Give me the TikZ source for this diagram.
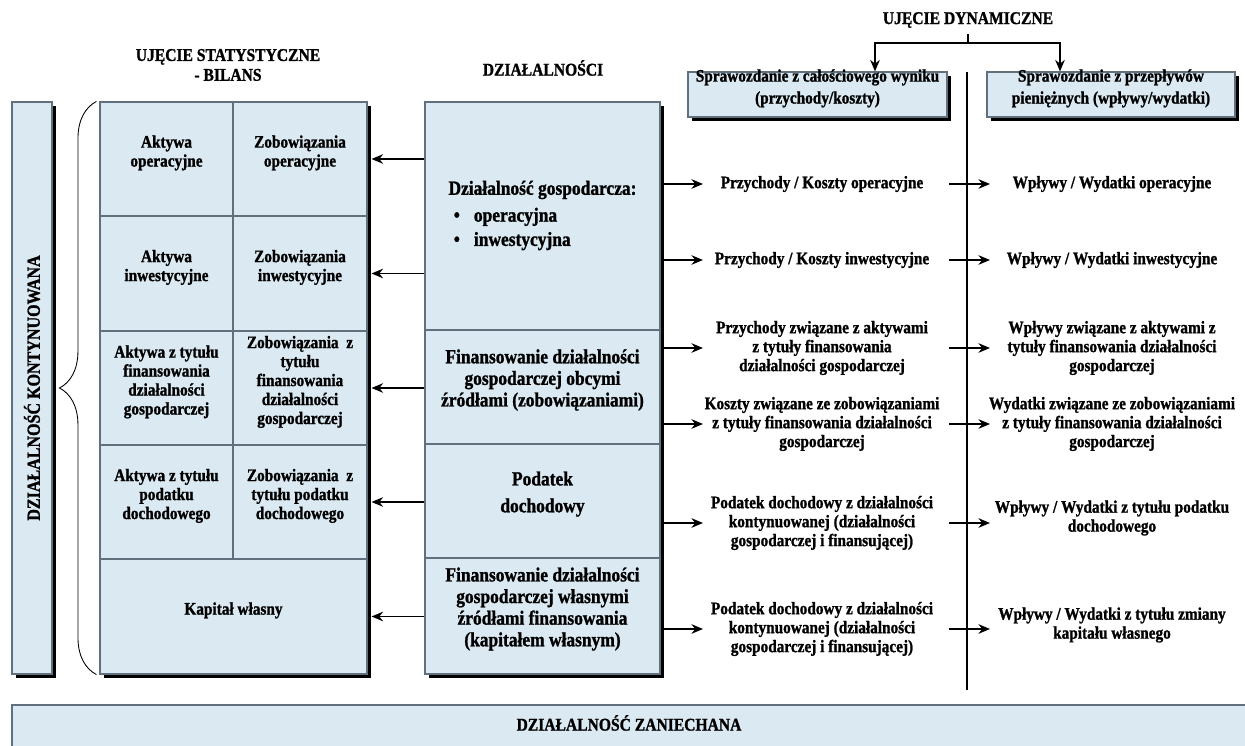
\documentclass[tikz,border=0pt]{standalone}
\usepackage{fontspec}
\setmainfont{Liberation Serif}[FakeStretch=0.87, BoldFeatures={FakeBold=1.2}]
\usetikzlibrary{arrows.meta, positioning, fit, shadows, decorations.pathreplacing}

\definecolor{cellblue}{RGB}{219,234,242}
\definecolor{edgegray}{RGB}{96,112,124}

\begin{document}
\begin{tikzpicture}[x=0.02cm, y=-0.02cm, >={Stealth[length=2.3mm, width=1.9mm]},
      panel/.style={draw=edgegray, fill=cellblue, line width=0.6pt, inner sep=0pt, align=center,
                    drop shadow={shadow xshift=0.08cm, shadow yshift=-0.08cm, opacity=1, fill=black}},
      cell/.style={draw=edgegray, fill=cellblue, line width=0.6pt, inner sep=0pt, align=center,
                   font=\fontsize{10}{10.8}\selectfont\bfseries},
      mcell/.style={cell, font=\fontsize{11.4}{12.3}\selectfont\bfseries},
      hdr/.style={font=\fontsize{10.2}{11.3}\selectfont\bfseries, align=center},
      txt/.style={font=\fontsize{10}{10.8}\selectfont\bfseries, align=center},
      arr/.style={->, line width=1.1pt}]

    \useasboundingbox (0,0) rectangle (1245,746);
    \clip (0,0) rectangle (1245,746);

    % ---- Titles ----
    \node[hdr] (stat)  at (228,65)  {UJĘCIE STATYSTYCZNE\\- BILANS};
    \node[hdr] (dzial) at (543,68)  {DZIAŁALNOŚCI};
    \node[hdr] (dyn)   at (968,20)  {UJĘCIE DYNAMICZNE};

    % ---- Continued activity (left bar + brace) ----
    \node[panel, fit={(12,102) (52,674)}] (kont) {};
    \node[rotate=90, font=\fontsize{10.5}{12}\selectfont\bfseries] (kontT) at (kont.center)
         {DZIAŁALNOŚĆ KONTYNUOWANA};

    % ---- Balance table ----
    \node[panel, fit={(100,102) (367,674)}] (tab) {};
    \node[cell, fit={(100,102) (233,216)}] (a1) {Aktywa\\operacyjne};
    \node[cell, fit={(233,102) (367,216)}] (z1) {Zobowiązania\\operacyjne};
    \node[cell, fit={(100,216) (233,331)}] (a2) {Aktywa\\inwestycyjne};
    \node[cell, fit={(233,216) (367,331)}] (z2) {Zobowiązania\\inwestycyjne};
    \node[cell, fit={(100,331) (233,445)}] (a3) {Aktywa z tytułu\\finansowania\\działalności\\gospodarczej};
    \node[cell, fit={(233,331) (367,445)}] (z3) {Zobowiązania\ \ z\\tytułu\\finansowania\\działalności\\gospodarczej};
    \node[cell, fit={(100,445) (233,559)}] (a4) {Aktywa z tytułu\\podatku\\dochodowego};
    \node[cell, fit={(233,445) (367,559)}] (z4) {Zobowiązania\ \ z\\tytułu podatku\\dochodowego};
    \node[cell, fit={(100,559) (367,674)}] (kap) {Kapitał własny};

    \draw[decorate, decoration={brace, amplitude=0.74cm, aspect=0.5}, line width=0.5pt]
         ([xshift=-0.06cm]tab.south west) -- ([xshift=-0.06cm]tab.north west);

    % ---- Activities column ----
    \node[panel, fit={(425,102) (660,674)}] (mid) {};
    \node[mcell, fit={(425,102) (660,330)}] (m1) {};
    \node[font=\fontsize{11.4}{12.3}\selectfont\bfseries, inner sep=0pt] (m1t) at (m1.center)
         {\begin{tabular}{@{}l@{}}Działalność gospodarcza:\\[3pt]\hspace*{3pt}\textbullet\hspace{8pt}operacyjna\\[1.5pt]\hspace*{3pt}\textbullet\hspace{8pt}inwestycyjna\end{tabular}};
    \node[mcell, fit={(425,330) (660,444)}] (m2) {Finansowanie działalności\\gospodarczej obcymi\\źródłami (zobowiązaniami)};
    \node[mcell, fit={(425,444) (660,558)}] (m3) {Podatek\\[3pt]dochodowy};
    \node[mcell, fit={(425,558) (660,674)}] (m4) {Finansowanie działalności\\gospodarczej własnymi\\źródłami finansowania\\(kapitałem własnym)};

    \foreach \r in {z1,z2,z3,z4,kap}
        \draw[arr] (mid.west |- \r) -- ([xshift=0.08cm]\r.east);

    % ---- Dynamic view headers ----
    \node[panel, font=\fontsize{10}{12.5}\selectfont\bfseries, fit={(688,72) (947,117)}] (hb1)
         {Sprawozdanie z całościowego wyniku\\(przychody/koszty)};
    \node[panel, font=\fontsize{10}{12.5}\selectfont\bfseries, fit={(987,72) (1235,117)}] (hb2)
         {Sprawozdanie z przepływów\\pieniężnych (wpływy/wydatki)};

    \coordinate (kL) at (875,43);
    \coordinate (kR) at (1060,43);
    \draw[line width=1.1pt] (dyn.south) -- (dyn.south |- kL);
    \draw[line width=1.1pt, <->] (kL |- hb1.north) -- (kL) -- (kR) -- (kR |- hb2.north);

    \coordinate (sepT) at (967,72);
    \coordinate (sepB) at (967,690);
    \draw[line width=0.6pt] (sepT) -- (sepB);

    % ---- Income statement items ----
    \node[txt] (p1) at (822,184) {Przychody / Koszty operacyjne};
    \node[txt] (p2) at (822,260) {Przychody / Koszty inwestycyjne};
    \node[txt] (p3) at (822,348) {Przychody związane z aktywami\\z tytuły finansowania\\działalności gospodarczej};
    \node[txt] (p4) at (822,424) {Koszty związane ze zobowiązaniami\\z tytuły finansowania działalności\\gospodarczej};
    \node[txt] (p5) at (822,523) {Podatek dochodowy z działalności\\kontynuowanej (działalności\\gospodarczej i finansującej)};
    \node[txt] (p6) at (822,629) {Podatek dochodowy z działalności\\kontynuowanej (działalności\\gospodarczej i finansującej)};

    % ---- Cash flow items ----
    \node[txt] (w1) at (1112,184) {Wpływy / Wydatki operacyjne};
    \node[txt] (w2) at (1112,260) {Wpływy / Wydatki inwestycyjne};
    \node[txt] (w3) at (1112,348) {Wpływy związane z aktywami z\\tytuły finansowania działalności\\gospodarczej};
    \node[txt] (w4) at (1112,424) {Wydatki związane ze zobowiązaniami\\z tytuły finansowania działalności\\gospodarczej};
    \node[txt] (w5) at (1112,518) {Wpływy / Wydatki z tytułu podatku\\dochodowego};
    \node[txt] (w6) at (1112,625) {Wpływy / Wydatki z tytułu zmiany\\kapitału własnego};

    \coordinate (e1) at (703,0);
    \coordinate (s2) at (949,0);
    \coordinate (e2) at (990,0);
    \foreach \r in {p1,p2,p3,p4,p5,p6} {
        \draw[arr] (mid.east |- \r) -- (e1 |- \r);
        \draw[arr] (s2 |- \r) -- (e2 |- \r);
    }

    % ---- Discontinued activity ----
    \node[cell, fit={(12,705) (1262,770)}] (zan) {};
    \node[hdr] (zanT) at (629,723) {DZIAŁALNOŚĆ ZANIECHANA};

\end{tikzpicture}
\end{document}
